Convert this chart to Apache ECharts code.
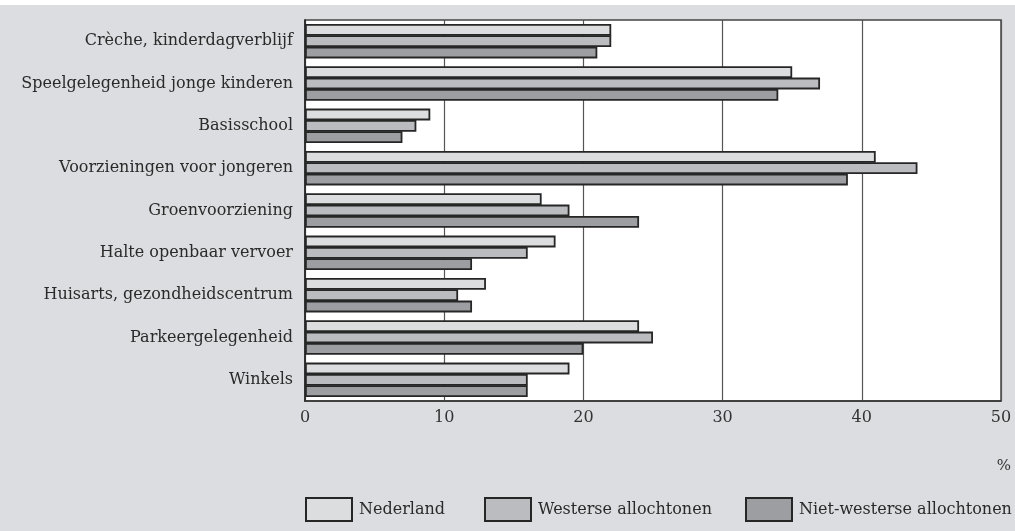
<!DOCTYPE html>
<html><head><meta charset="utf-8">
<script src="https://cdn.jsdelivr.net/npm/echarts@6/dist/echarts.min.js"></script>
<style>html,body{margin:0;padding:0;background:#dcdde0;}#c{width:1015px;height:531px;}</style>
</head><body><div id="c"></div>
<script>
const categories = ['Crèche, kinderdagverblijf','Speelgelegenheid jonge kinderen','Basisschool','Voorzieningen voor jongeren','Groenvoorziening','Halte openbaar vervoer','Huisarts, gezondheidscentrum','Parkeergelegenheid','Winkels'];
const nederland = [22,35,9,41,17,18,13,24,19];
const westerse = [22,37,8,44,19,16,11,25,16];
const nietWesterse = [21,34,7,39,24,12,12,20,16];
const seriesNames = ['Nederland','Westerse allochtonen','Niet-westerse allochtonen'];
const xTicks = [0,10,20,30,40,50];

const font = '"DejaVu Serif", serif';
const colors = ['#dcdddf','#bbbcbf','#9d9ea1'];
const values = [nederland, westerse, nietWesterse];
const legendLeft = [305, 484, 745];

const chart = echarts.init(document.getElementById('c'));
chart.setOption({
  backgroundColor: '#dcdde0',
  animation: false,
  grid: {left: 305, right: 14, top: 20, bottom: 130, show: true, backgroundColor: '#ffffff', borderColor: '#444', borderWidth: 1.5},
  xAxis: {
    type: 'value', min: xTicks[0], max: xTicks[xTicks.length-1], interval: 10,
    axisLine: {show: true, lineStyle: {color: '#333', width: 1.5}},
    axisTick: {show: false},
    splitLine: {show: true, lineStyle: {color: '#555', width: 1.2}},
    axisLabel: {color: '#333', fontFamily: font, fontSize: 16, margin: 9}
  },
  yAxis: {
    type: 'category', data: categories, inverse: true,
    axisLine: {show: true, lineStyle: {color: '#222', width: 1.5}},
    axisTick: {show: false},
    axisLabel: {color: '#2a2a2a', fontFamily: font, fontSize: 16, margin: 12}
  },
  legend: seriesNames.map((n, i) => ({
    data: [n], left: legendLeft[i], top: 497, itemWidth: 46, itemHeight: 23,
    itemGap: 0, icon: 'rect', padding: 0,
    textStyle: {color: '#2a2a2a', fontFamily: font, fontSize: 16, padding: [0,0,0,2]}
  })),
  graphic: [
    {type: 'rect', left: 0, top: 0, shape: {width: 1015, height: 5}, style: {fill: '#ffffff'}, silent: true},
    {type: 'text', right: 4, top: 459, style: {text: '%', fill: '#333', font: '15px ' + font}}
  ],
  series: seriesNames.map((n, i) => ({
    name: n, type: 'bar', data: values[i], barGap: '-4%', barWidth: 11.8,
    itemStyle: {color: colors[i], borderColor: '#262626', borderWidth: 1.8}
  }))
});
</script></body></html>
